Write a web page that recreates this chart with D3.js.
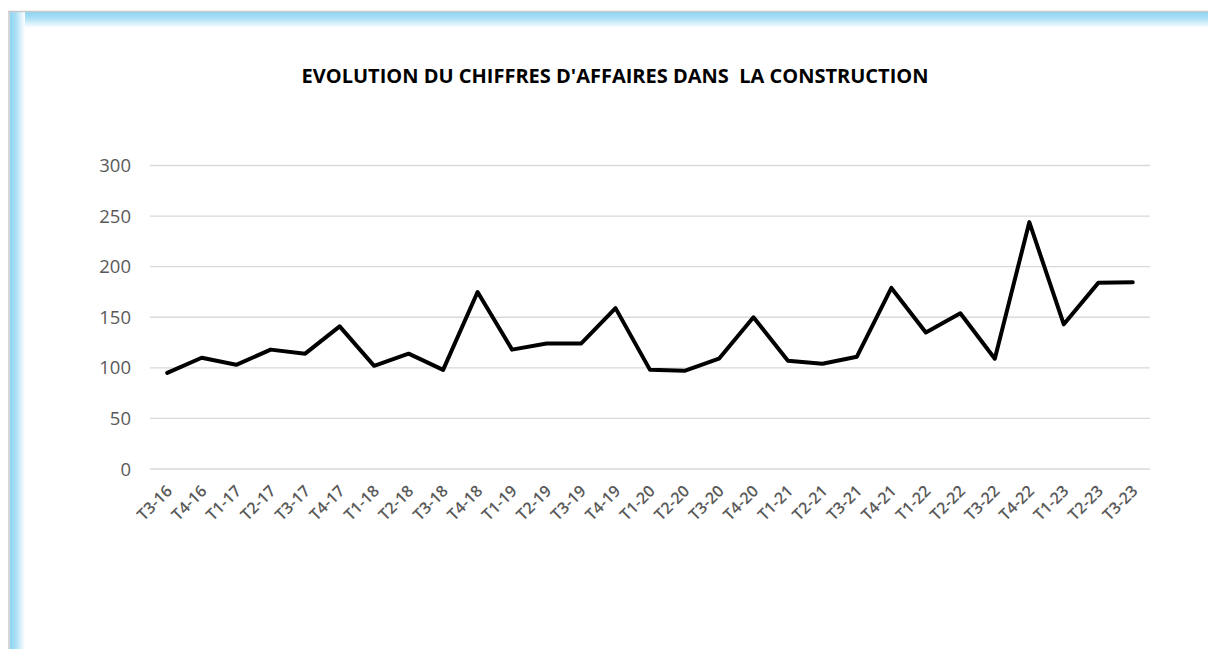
<!DOCTYPE html>
<html>
<head>
<meta charset="utf-8">
<script src="https://cdn.jsdelivr.net/npm/d3@7"></script>
<style>
  body { margin: 0; background: #fff; }
  svg { display: block; }
</style>
</head>
<body>
<svg id="chart" width="1208" height="649"></svg>
<script>
var quarters = ["T3-16","T4-16","T1-17","T2-17","T3-17","T4-17","T1-18","T2-18","T3-18","T4-18",
  "T1-19","T2-19","T3-19","T4-19","T1-20","T2-20","T3-20","T4-20","T1-21","T2-21","T3-21","T4-21",
  "T1-22","T2-22","T3-22","T4-22","T1-23","T2-23","T3-23"];
var chiffres = [95, 110, 103, 118, 114, 141, 102, 114, 98, 175,
  118, 124, 124, 159, 98, 97, 109, 150, 107, 104, 111, 179,
  135, 154, 109, 244, 143, 184, 184.5];
var yTicks = [0, 50, 100, 150, 200, 250, 300];
var title = "EVOLUTION DU CHIFFRES D'AFFAIRES DANS\u00a0 LA CONSTRUCTION";

var svg = d3.select("#chart");
var width = 1208, height = 649;

// cadre bleu (bordure dégradée en haut et à gauche)
var defs = svg.append("defs");
var gl = defs.append("linearGradient").attr("id", "gLeft").attr("x1", 0).attr("x2", 1).attr("y1", 0).attr("y2", 0);
gl.append("stop").attr("offset", "0%").attr("stop-color", "#8dd5f2");
gl.append("stop").attr("offset", "35%").attr("stop-color", "#a6def5");
gl.append("stop").attr("offset", "100%").attr("stop-color", "#ffffff");
var gt = defs.append("linearGradient").attr("id", "gTop").attr("x1", 0).attr("x2", 0).attr("y1", 0).attr("y2", 1);
gt.append("stop").attr("offset", "0%").attr("stop-color", "#8dd5f2");
gt.append("stop").attr("offset", "35%").attr("stop-color", "#a6def5");
gt.append("stop").attr("offset", "100%").attr("stop-color", "#ffffff");

svg.append("rect").attr("x", 10).attr("y", 12).attr("width", width - 10).attr("height", 16).attr("fill", "url(#gTop)");
svg.append("rect").attr("x", 10).attr("y", 12).attr("width", 15).attr("height", height - 12).attr("fill", "url(#gLeft)");
svg.append("line").attr("x1", 8).attr("x2", width).attr("y1", 11.5).attr("y2", 11.5).attr("stroke", "#c8c8c8").attr("stroke-width", 1.5);
svg.append("line").attr("x1", 9).attr("x2", 9).attr("y1", 11).attr("y2", height).attr("stroke", "#c8c8c8").attr("stroke-width", 1.5);

// titre
svg.append("text")
  .attr("x", 615).attr("y", 83)
  .attr("text-anchor", "middle")
  .style("font-family", "'Open Sans', 'Liberation Sans', sans-serif")
  .style("font-weight", "bold")
  .style("font-size", "20px")
  .attr("fill", "#000")
  .text(title);

var x = d3.scalePoint().domain(quarters).range([150, 1150]).padding(0.5);
var y = d3.scaleLinear().domain([0, 300]).range([469, 165.5]);

// grille
svg.append("g")
  .selectAll("line")
  .data(yTicks)
  .enter().append("line")
  .attr("x1", 150).attr("x2", 1150)
  .attr("y1", function(d){ return y(d); })
  .attr("y2", function(d){ return y(d); })
  .attr("stroke", "#d9d9d9")
  .attr("stroke-width", 1.3);

// axe Y
svg.append("g")
  .selectAll("text")
  .data(yTicks)
  .enter().append("text")
  .attr("x", 131)
  .attr("y", function(d){ return y(d); })
  .attr("dy", "0.36em")
  .attr("text-anchor", "end")
  .style("font-family", "'Open Sans', 'Liberation Sans', sans-serif")
  .style("font-size", "18.5px")
  .attr("fill", "#595959")
  .text(function(d){ return d; });

// axe X
svg.append("g")
  .selectAll("text")
  .data(quarters)
  .enter().append("text")
  .attr("transform", function(d){ return "translate(" + (x(d) + 2) + ",488) rotate(-45)"; })
  .attr("text-anchor", "end")
  .attr("dy", "0.35em")
  .style("font-family", "'Open Sans', 'Liberation Sans', sans-serif")
  .style("font-size", "16px")
  .style("font-weight", "600")
  .attr("fill", "#595959")
  .text(function(d){ return d; });

// courbe
var line = d3.line()
  .x(function(d, i){ return x(quarters[i]); })
  .y(function(d){ return y(d); });

svg.append("path")
  .datum(chiffres)
  .attr("d", line)
  .attr("fill", "none")
  .attr("stroke", "#000")
  .attr("stroke-width", 4)
  .attr("stroke-linejoin", "round")
  .attr("stroke-linecap", "round");
</script>
</body>
</html>
